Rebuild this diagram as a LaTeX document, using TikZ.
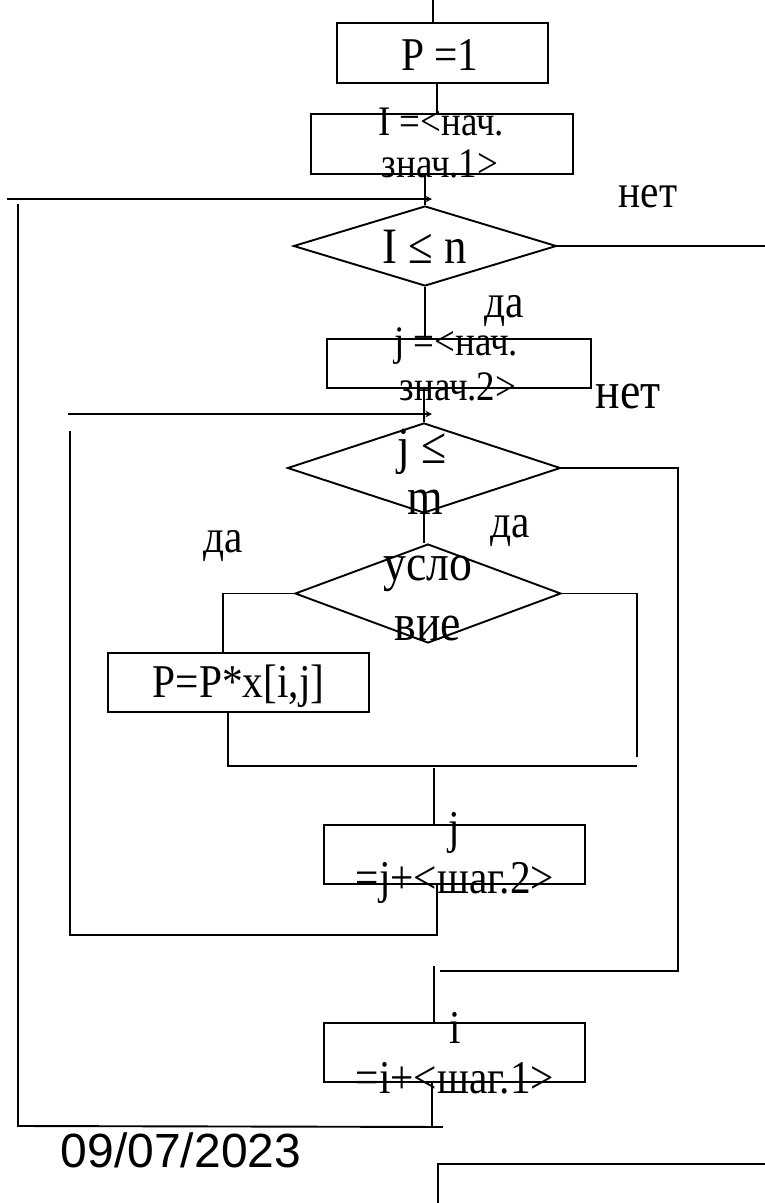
\documentclass[tikz,border=0pt]{standalone}
\usepackage{fontspec}
\setmainfont{Liberation Serif}[FakeStretch=0.88]
\newfontfamily\datefont{Liberation Sans}
\usetikzlibrary{arrows,shapes.geometric}

\tikzset{
  blk/.style={draw, inner sep=0pt},
  cond/.style={diamond, draw, inner sep=0pt},
  lbl/.style={inner sep=0pt, anchor=base},
  big/.style={lbl, font=\fontsize{52}{52}\selectfont},
  mid/.style={lbl, font=\fontsize{47}{47}\selectfont},
  small/.style={lbl, font=\fontsize{42}{42}\selectfont},
  wide/.style={lbl, font=\fontsize{52}{52}\selectfont},
}

\begin{document}
\begin{tikzpicture}[x=1pt, y=-1pt, line width=1.9pt, >=stealth]
\useasboundingbox (0,0) rectangle (765,1203);

% blocks
\node[blk, minimum width=211pt, minimum height=60pt] (bp) at (442.5,53) {};
\node[blk, minimum width=262pt, minimum height=60pt] (bi) at (442,144) {};
\node[cond, minimum width=263pt, minimum height=80pt] (d1) at (425,246) {};
\node[blk, minimum width=264pt, minimum height=49pt] (bj) at (459,363.5) {};
\node[cond, minimum width=273pt, minimum height=90pt] (d2) at (424,468) {};
\node[cond, minimum width=266pt, minimum height=99pt] (d3) at (428,593.5) {};
\node[blk, minimum width=261pt, minimum height=59pt] (bmul) at (238.5,682.5) {};
\node[blk, minimum width=261pt, minimum height=59pt] (bjs) at (454.5,854.5) {};
\node[blk, minimum width=261pt, minimum height=59pt] (bis) at (454.5,1052.5) {};

% texts
\node[mid] (tp) at (440,70) {P =1};
\node[small] (ti1) at (441,135) {I =<нач.};
\node[small] (ti2) at (440,177) {знач.1>};
\node[lbl, font=\fontsize{51}{51}\selectfont] (td1) at (425,263) {I ≤ n};
\node[mid] (no1) at (648,207) {нет};
\node[mid] (yes1) at (504,317) {да};
\node[small] (tj1) at (456,355) {j =<нач.};
\node[small] (tj2) at (458,400) {знач.2>};
\node[wide] (no2) at (628,408) {нет};
\node[big] (td2a) at (422,463) {j ≤};
\node[big] (td2b) at (425,514) {m};
\node[mid] (yes2) at (510,537) {да};
\node[mid] (yes3) at (223,552) {да};
\node[wide] (td3a) at (428,580) {усло};
\node[wide] (td3b) at (428,640) {вие};
\node[mid] (tmul) at (238.5,697) {P=P*x[i,j]};
\node[mid] (tjs1) at (454,843) {j};
\node[mid] (tjs2) at (455,893) {=j+<шаг.2>};
\node[mid] (tis1) at (455,1043) {i};
\node[mid] (tis2) at (455,1093) {=i+<шаг.1>};
\node[lbl, font=\datefont\fontsize{48}{48}\selectfont] (date) at (181,1167) {09/07/2023};

% free ends
\coordinate (top) at (433,0);
\coordinate (l1) at (7,199);
\coordinate (l2) at (68,414);

% connectors
\draw (top) -- (top |- bp.north);
\draw ([xshift=-5.5pt]bp.south) -- ([xshift=-5.5pt]bp.south |- bi.north);
\draw (bi.south -| d1.north) -- (d1.north);
\draw[->] (l1) -- ([xshift=7pt]l1 -| d1.north);
\draw (d1.east) -- ++(209,0);
\draw (d1.south) -- (d1.south |- bj.north);
\draw (bj.south -| d2.north) -- (d2.north);
\draw[->] (l2) -- ([xshift=8pt]l2 -| d2.north);
\draw (d2.south) -- (d2.south |- d3.north);
\draw (d2.east) -| (678,971) -- (440,971);
\draw (d3.west) -| ([xshift=-15.5pt]bmul.north);
\draw (d3.east) -| (637,757);
\draw ([xshift=-10.5pt]bmul.south) |- (637,766);
\draw ([xshift=-20.5pt]bjs.north) -- ++(0,-56);
\draw ([xshift=-17.5pt]bjs.south) |- (70,935) -- (70,431);
\draw ([xshift=-20.5pt]bis.north) -- ++(0,-56);
\draw ([xshift=-22.5pt]bis.south) -- ++(0,44) -- (18,1126) -- (18,204);
\draw ([xshift=-22.5pt]bis.south) ++(0,44) -- ++(11,0);
\draw (438,1203) |- (765,1164);
\end{tikzpicture}
\end{document}
